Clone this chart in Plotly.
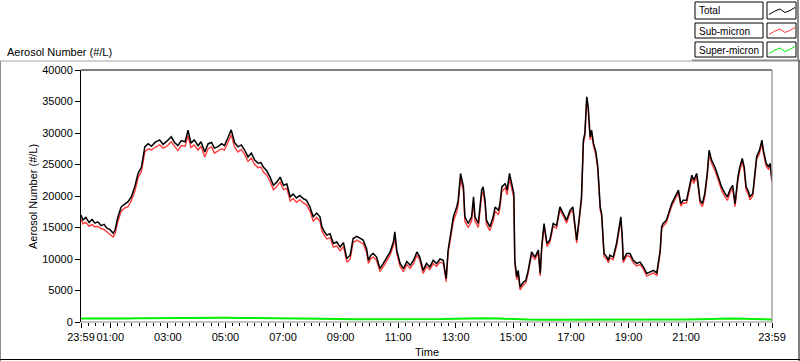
import plotly.graph_objects as go
from datetime import datetime, timedelta

# ---------------- data ----------------
times = [
    "23:59", "00:03", "00:09", "00:16", "00:22", "00:28", "00:34", "00:41", "00:47", "00:53",
    "00:59", "01:06", "01:10", "01:16", "01:23", "01:30", "01:37", "01:44", "01:51", "01:58",
    "02:05", "02:12", "02:19", "02:26", "02:33", "02:43", "02:50", "02:58", "03:07", "03:14",
    "03:21", "03:28", "03:36", "03:42", "03:48", "03:55", "04:03", "04:09", "04:17", "04:24",
    "04:31", "04:37", "04:44", "04:52", "04:58", "05:05", "05:12", "05:19", "05:26", "05:33",
    "05:40", "05:47", "05:54", "06:01", "06:08", "06:14", "06:19", "06:26", "06:33", "06:40",
    "06:47", "06:54", "07:01", "07:08", "07:15", "07:21", "07:28", "07:35", "07:42", "07:49",
    "07:56", "08:03", "08:10", "08:17", "08:21", "08:25", "08:31", "08:38", "08:45", "08:52",
    "08:59", "09:06", "09:13", "09:20", "09:26", "09:34", "09:40", "09:47", "09:54", "09:58",
    "10:03", "10:08", "10:15", "10:22", "10:29", "10:36", "10:43", "10:50", "10:53", "10:57",
    "11:04", "11:11", "11:18", "11:25", "11:32", "11:39", "11:45", "11:52", "11:59", "12:06",
    "12:13", "12:20", "12:27", "12:34", "12:40", "12:44", "12:51", "12:55", "13:02", "13:05",
    "13:10", "13:16", "13:19", "13:26", "13:33", "13:37", "13:40", "13:47", "13:54", "13:57",
    "14:01", "14:04", "14:11", "14:18", "14:22", "14:29", "14:32", "14:36", "14:43", "14:47",
    "14:52", "14:57", "15:01", "15:03", "15:07", "15:10", "15:14", "15:21", "15:26", "15:31",
    "15:35", "15:38", "15:45", "15:52", "15:56", "15:59", "16:04", "16:10", "16:16", "16:23",
    "16:30", "16:37", "16:44", "16:51", "16:58", "17:04", "17:08", "17:12", "17:19", "17:22",
    "17:26", "17:29", "17:33", "17:36", "17:40", "17:43", "17:47", "17:52", "17:56", "18:01",
    "18:04", "18:06", "18:09", "18:15", "18:18", "18:21", "18:28", "18:35", "18:39", "18:44",
    "18:47", "18:49", "18:56", "19:03", "19:10", "19:17", "19:24", "19:31", "19:38", "19:45",
    "19:52", "19:59", "20:02", "20:06", "20:09", "20:12", "20:19", "20:23", "20:30", "20:37",
    "20:44", "20:49", "20:54", "21:01", "21:07", "21:12", "21:16", "21:22", "21:25", "21:29",
    "21:34", "21:39", "21:44", "21:48", "21:53", "22:00", "22:07", "22:14", "22:21", "22:26",
    "22:32", "22:37", "22:42", "22:48", "22:52", "22:57", "23:01", "23:05", "23:10", "23:13",
    "23:19", "23:22", "23:27", "23:33", "23:38", "23:41", "23:47", "23:52", "23:55", "23:59",
]

total = [
    17000, 16200, 16600, 15800, 16300, 15700, 15900, 15300, 15500, 14900,
    14700, 14100, 14600, 16700, 18300, 18700, 19100, 19900, 21450, 23600,
    24600, 27800, 28300, 27900, 28500, 28900, 28200, 28700, 29400, 28500,
    28000, 28800, 28600, 30460, 28400, 28900, 28000, 28600, 27000, 28300,
    28500, 27600, 27800, 28300, 28000, 29200, 30500, 28500, 27800, 28100,
    27300, 26200, 26800, 25700, 25200, 25300, 24600, 24000, 23000, 21700,
    22200, 23000, 21700, 21900, 19860, 20300, 19700, 20100, 19600, 19300,
    18270, 16700, 17300, 16700, 15100, 14500, 13780, 14000, 12460, 12700,
    11900, 12600, 10070, 10600, 13250, 13600, 13300, 13000, 11660, 9800,
    10600, 10870, 10300, 8480, 9300, 10300, 11100, 12700, 14300, 11400,
    9300, 8480, 9600, 9000, 9800, 11120, 10300, 8200, 9300, 8740,
    9800, 9270, 10000, 9800, 6890, 11390, 15100, 16700, 18270, 19300,
    23580, 21450, 16700, 15630, 16700, 19860, 16700, 15630, 20930, 21450,
    19300, 16160, 15100, 16700, 18270, 17700, 18800, 21450, 22000, 20930,
    23580, 21450, 20400, 9800, 7150, 8200, 5560, 6350, 6600, 8215,
    9800, 11120, 10300, 11400, 7690, 11900, 15630, 12460, 13000, 15630,
    15300, 18270, 17200, 16160, 17700, 18270, 15630, 12980, 17700, 19860,
    28870, 29940, 35750, 34200, 29400, 30460, 28350, 27000, 24630, 18270,
    17200, 15100, 10870, 10300, 9800, 10600, 10300, 12460, 14300, 16680,
    13500, 9800, 10870, 10870, 9800, 9300, 9500, 8740, 7690, 8000,
    8200, 7800, 9300, 11390, 15100, 15630, 16160, 17200, 18800, 19860,
    20930, 18800, 19340, 19340, 21450, 23300, 22500, 23580, 22000, 19340,
    18800, 20400, 23580, 27280, 25700, 24600, 23040, 21450, 20400, 19860,
    21100, 21700, 18800, 23040, 24630, 25960, 24630, 21450, 20700, 19860,
    20400, 22520, 26220, 27280, 28870, 27280, 25170, 24600, 25170, 22520,
]

sub_micron = [
    16300, 15600, 15800, 15200, 15500, 15100, 15200, 14800, 14700, 14300,
    14000, 13500, 14000, 16000, 17600, 18100, 18300, 19300, 20700, 22900,
    23900, 27000, 27500, 27300, 27700, 28100, 27600, 27900, 28600, 27800,
    27200, 28000, 27900, 29600, 27700, 28100, 27300, 27900, 26200, 27500,
    27800, 26800, 27100, 27500, 27300, 28400, 29700, 27800, 27000, 27400,
    26600, 25500, 26000, 25000, 24500, 24600, 23800, 23300, 22300, 21000,
    21500, 22200, 21000, 21200, 19200, 19600, 19000, 19400, 18900, 18600,
    17600, 16000, 16600, 16000, 14500, 13900, 13200, 13400, 11900, 12100,
    11300, 12000, 9500, 10000, 12600, 13000, 12700, 12400, 11100, 9300,
    10100, 10300, 9800, 8000, 8800, 9800, 10600, 12100, 13600, 10900,
    8800, 8000, 9100, 8500, 9300, 10600, 9800, 7700, 8800, 8300,
    9300, 8800, 9500, 9300, 6400, 10900, 14500, 16000, 17500, 18600,
    22800, 20700, 16000, 15000, 16000, 19100, 16000, 15000, 20200, 20700,
    18600, 15500, 14500, 16000, 17600, 17000, 18100, 20700, 21300, 20200,
    22800, 20800, 19700, 9300, 6700, 7800, 5100, 5900, 6200, 7800,
    9400, 10700, 9900, 11000, 7300, 11500, 15200, 12000, 12600, 15200,
    14900, 17800, 16800, 15700, 17300, 17800, 15200, 12500, 17300, 19400,
    28400, 29500, 35300, 33700, 28900, 30000, 27900, 26500, 24200, 17800,
    16800, 14700, 10400, 9900, 9400, 10200, 9900, 12000, 13900, 16200,
    13100, 9400, 10500, 10400, 9400, 8900, 9100, 8400, 7300, 7600,
    7800, 7400, 8900, 11000, 14700, 15200, 15800, 16800, 18400, 19500,
    20500, 18400, 18900, 18900, 21000, 22800, 22000, 23100, 21500, 18900,
    18300, 19900, 23100, 26700, 25200, 24100, 22500, 20900, 19900, 19300,
    20600, 21200, 18300, 22500, 24100, 25400, 24100, 20900, 20200, 19400,
    20000, 22100, 25800, 26800, 28400, 26800, 24700, 24200, 24800, 22100,
]

super_times = [
    "23:59", "00:30", "01:00", "01:30", "02:00", "02:30", "03:00", "03:30", "04:00", "04:30",
    "05:00", "05:30", "06:00", "06:30", "07:00", "07:30", "08:00", "08:30", "09:00", "09:30",
    "10:00", "10:30", "11:00", "11:30", "12:00", "12:30", "13:00", "13:30", "14:00", "14:30",
    "15:00", "15:30", "16:00", "16:30", "17:00", "17:30", "18:00", "18:30", "19:00", "19:30",
    "20:00", "20:30", "21:00", "21:30", "22:00", "22:30", "23:00", "23:30", "23:59",
]
super_micron = [
    550, 520, 500, 560, 600, 620, 680, 700, 720, 690,
    680, 650, 640, 620, 600, 580, 540, 520, 470, 450,
    440, 430, 450, 430, 440, 460, 520, 580, 600, 560,
    440, 380, 370, 360, 390, 420, 380, 370, 360, 380,
    360, 350, 380, 420, 500, 560, 520, 400, 380,
]

y_tick_values = [0, 5000, 10000, 15000, 20000, 25000, 30000, 35000, 40000]
x_tick_labels = ["23:59", "01:00", "03:00", "05:00", "07:00", "09:00", "11:00",
                 "13:00", "15:00", "17:00", "19:00", "21:00", "23:59"]

series_names = ["Total", "Sub-micron", "Super-micron"]
series_colors = ["#000000", "#ff3c3c", "#00f000"]

# ---------------- helpers ----------------
BASE = datetime(2000, 1, 2)


def to_dt(hhmm, first=False):
    h, m = map(int, hhmm.split(":"))
    d = BASE + timedelta(hours=h, minutes=m)
    if first:
        d -= timedelta(days=1)
    return d


def dts(lst):
    return [to_dt(t, i == 0) for i, t in enumerate(lst)]


W, H = 800, 361
L, R, T, B = 81, 772, 70, 322


def px(x):
    return (x - L) / (R - L)


def py(y):
    return (B - y) / (B - T)


FONT = "Liberation Sans, Arial, sans-serif"

fig = go.Figure()
fig.add_trace(go.Scatter(x=dts(super_times), y=super_micron, mode="lines",
                         line=dict(color=series_colors[2], width=2),
                         name=series_names[2], hoverinfo="skip"))
fig.add_trace(go.Scatter(x=dts(times), y=sub_micron, mode="lines",
                         line=dict(color=series_colors[1], width=1.4),
                         name=series_names[1], hoverinfo="skip"))
fig.add_trace(go.Scatter(x=dts(times), y=total, mode="lines",
                         line=dict(color=series_colors[0], width=1.5),
                         name=series_names[0], hoverinfo="skip"))

x_tick_vals = [to_dt(x_tick_labels[0], True)] + [to_dt(t) for t in x_tick_labels[1:]]

shapes = []


def line(x0, y0, x1, y1, color, width=1):
    shapes.append(dict(type="line", xref="paper", yref="paper",
                       x0=px(x0), y0=py(y0), x1=px(x1), y1=py(y1),
                       line=dict(color=color, width=width), layer="above"))


# plot frame: black top/left, gray bottom/right
line(L, T, R, T, "black", 1)
line(R, T, R, B, "#8c8c8c", 1.2)
line(L, B, R, B, "#8c8c8c", 1.2)
# window panel edges
line(0, 61, 692, 61, "#a0a0a0", 1)
line(692, 60.5, 800, 60.5, "#8c8c8c", 2)
line(798, 0, 798, 61, "#8c8c8c", 2)
line(0.5, 61, 0.5, 361, "#8c8c8c", 1)
line(0, 359.5, 800, 359.5, "black", 1)
line(799, 61, 799, 361, "black", 1)

annotations = [
    dict(text="Aerosol Number (#/L)", x=px(5), y=py(52), xanchor="left", yanchor="middle", size=11),
    dict(text="Aerosol Number (#/L)", x=px(33), y=py(196), textangle=-90,
         xanchor="center", yanchor="middle", size=11),
    dict(text="Time", x=px(426.5), y=py(352), xanchor="center", yanchor="middle", size=11),
]

# legend drawn as boxes
rows = [(2, 19), (23, 38), (42, 57)]
for (y0, y1), name, color in zip(rows, series_names, series_colors):
    shapes.append(dict(type="rect", xref="paper", yref="paper",
                       x0=px(695), x1=px(763), y0=py(y0), y1=py(y1),
                       line=dict(color="black", width=1), fillcolor="white", layer="above"))
    shapes.append(dict(type="rect", xref="paper", yref="paper",
                       x0=px(767), x1=px(796), y0=py(y0), y1=py(y1),
                       line=dict(color="black", width=1), fillcolor="white", layer="above"))
    ym = (y0 + y1) / 2
    pts = [(769, ym + 4), (775, ym + 0.5), (780, ym - 1.5), (785, ym + 2), (790, ym), (795, ym - 3)]
    path = "M " + " L ".join(f"{px(a):.5f},{py(b):.5f}" for a, b in pts)
    shapes.append(dict(type="path", xref="paper", yref="paper", path=path,
                       line=dict(color=color, width=1), layer="above"))
    annotations.append(dict(text=name, x=px(697), y=py(ym + 0.5), xanchor="left",
                            yanchor="middle", size=10))

for a in annotations:
    size = a.pop("size")
    a.update(xref="paper", yref="paper", showarrow=False,
             font=dict(family=FONT, size=size, color="black"))

fig.update_layout(
    width=W, height=H,
    margin=dict(l=L, r=W - R, t=T, b=H - B, pad=0, autoexpand=False),
    paper_bgcolor="white", plot_bgcolor="white",
    showlegend=False,
    font=dict(family=FONT, size=11, color="black"),
    shapes=shapes, annotations=annotations,
    xaxis=dict(
        type="date", automargin=False,
        range=[x_tick_vals[0], x_tick_vals[-1]],
        tickmode="array", tickvals=x_tick_vals, ticktext=x_tick_labels,
        tickangle=0,
        ticks="outside", ticklen=5, tickwidth=1, tickcolor="black",
        showgrid=False, zeroline=False, showline=False,
        tickfont=dict(family=FONT, size=11, color="black"),
        minor=dict(ticks="outside", ticklen=3, tickwidth=1, tickcolor="black",
                   dtick=15 * 60 * 1000, tick0="2000-01-02 00:00", showgrid=False),
        fixedrange=True,
    ),
    yaxis=dict(
        automargin=False,
        range=[0, 40000],
        tickmode="array", tickvals=y_tick_values,
        ticktext=[str(v) for v in y_tick_values],
        ticks="outside", ticklen=5, tickwidth=1, tickcolor="black",
        showgrid=False, zeroline=False,
        showline=True, linecolor="black", linewidth=1,
        tickfont=dict(family=FONT, size=11, color="black"),
        fixedrange=True,
    ),
)

fig.write_html("out.html", config={"displayModeBar": False},
               post_script="document.body.style.margin='0px';document.body.style.overflow='hidden';")
